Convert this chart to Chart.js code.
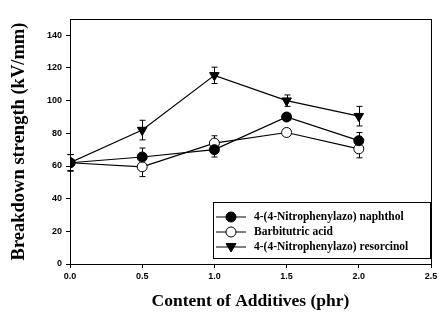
<!DOCTYPE html>
<html>
<head>
<meta charset="utf-8">
<script src="https://cdn.jsdelivr.net/npm/chart.js@4.4.1/dist/chart.umd.min.js"></script>
<style>
  html, body { margin: 0; padding: 0; background: #fff; }
  #wrap { width: 441px; height: 318px; position: relative; }
</style>
</head>
<body>
<div id="wrap"><canvas id="chart"></canvas></div>
<script>
/* ---- data ---- */
const contents = [0.0, 0.5, 1.0, 1.5, 2.0];

const seriesLabels = [
    "4-(4-Nitrophenylazo) naphthol",
    "Barbitutric acid",
    "4-(4-Nitrophenylazo) resorcinol"
];

const naphthol      = [62, 65.5, 70, 90, 75.5];
const naphtholErr   = [5, 5.5, 4.5, 2, 5];
const barbituric    = [62, 59.5, 74, 80.5, 70.5];
const barbituricErr = [5, 6, 4.5, 2, 5.5];
const resorcinol    = [62, 82, 115.5, 100, 90.5];
const resorcinolErr = [5, 6, 5, 3.5, 6];

const xTicks = [0.0, 0.5, 1.0, 1.5, 2.0, 2.5];
const yTicks = [0, 20, 40, 60, 80, 100, 120, 140];

/* ---- helpers ---- */
const toPoints = vals => vals.map((v, i) => ({ x: contents[i], y: v }));

// error bars drawn through the scales, below the markers
const errorBarPlugin = {
    id: "errorBars",
    beforeDatasetsDraw(chart) {
        const { ctx, scales: { x, y } } = chart;
        ctx.save();
        ctx.strokeStyle = "#000";
        ctx.lineWidth = 1;
        chart.data.datasets.forEach(ds => {
            ds.data.forEach((p, i) => {
                const e = ds.errors[i];
                const px = Math.round(x.getPixelForValue(p.x)) + 0.5;
                const top = y.getPixelForValue(p.y + e);
                const bot = y.getPixelForValue(p.y - e);
                ctx.beginPath();
                ctx.moveTo(px, top);
                ctx.lineTo(px, bot);
                ctx.moveTo(px - 3, top);
                ctx.lineTo(px + 3, top);
                ctx.moveTo(px - 3, bot);
                ctx.lineTo(px + 3, bot);
                ctx.stroke();
            });
        });
        ctx.restore();
    }
};

// box around the plot and a legend panel in the lower right
const frameLegendPlugin = {
    id: "frameLegend",
    afterDraw(chart) {
        const { ctx, chartArea: a } = chart;
        ctx.save();
        ctx.strokeStyle = "#000";
        ctx.lineWidth = 1;
        ctx.strokeRect(a.left + 0.5, a.top + 0.5, a.right - a.left, a.bottom - a.top);

        const bx = 213, by = 202, bw = 217, bh = 56;
        ctx.fillStyle = "#fff";
        ctx.fillRect(bx, by, bw, bh);
        ctx.strokeRect(bx + 0.5, by + 0.5, bw, bh);

        ctx.font = "bold 11.5px 'Liberation Serif', 'Times New Roman', serif";
        ctx.textBaseline = "middle";
        chart.data.datasets.forEach((ds, i) => {
            const ry = by + 15 + i * 15;
            ctx.beginPath();
            ctx.moveTo(bx + 3, ry);
            ctx.lineTo(bx + 33, ry);
            ctx.stroke();
            const r = 5;
            ctx.beginPath();
            if (ds.pointStyle === "triangle") {
                ctx.moveTo(bx + 18 - r, ry - r * 0.7);
                ctx.lineTo(bx + 18 + r, ry - r * 0.7);
                ctx.lineTo(bx + 18, ry + r);
                ctx.closePath();
            } else {
                ctx.arc(bx + 18, ry, r, 0, Math.PI * 2);
            }
            ctx.fillStyle = ds.pointBackgroundColor;
            ctx.fill();
            ctx.stroke();
            ctx.fillStyle = "#000";
            ctx.fillText(ds.label, bx + 41, ry + 0.5);
        });
        ctx.restore();
    }
};

const commonDs = {
    borderColor: "#000",
    borderWidth: 1.2,
    pointBorderColor: "#000",
    pointBorderWidth: 1,
    pointRadius: 5,
    tension: 0,
    fill: false
};

new Chart(document.getElementById("chart"), {
    type: "line",
    data: {
        datasets: [
            Object.assign({}, commonDs, {
                label: seriesLabels[0],
                data: toPoints(naphthol),
                errors: naphtholErr,
                pointStyle: "circle",
                pointBackgroundColor: "#000"
            }),
            Object.assign({}, commonDs, {
                label: seriesLabels[1],
                data: toPoints(barbituric),
                errors: barbituricErr,
                pointStyle: "circle",
                pointBackgroundColor: "#fff"
            }),
            Object.assign({}, commonDs, {
                label: seriesLabels[2],
                data: toPoints(resorcinol),
                errors: resorcinolErr,
                pointStyle: "triangle",
                pointRotation: 180,
                pointRadius: 5.5,
                pointBackgroundColor: "#000"
            })
        ]
    },
    options: {
        responsive: true,
        maintainAspectRatio: false,
        animation: false,
        layout: { padding: { top: 19, right: 10, left: 0, bottom: 0 } },
        plugins: {
            legend: { display: false },
            tooltip: { enabled: false }
        },
        scales: {
            x: {
                type: "linear",
                min: 0,
                max: 2.5,
                afterBuildTicks: s => { s.ticks = xTicks.map(v => ({ value: v })); },
                afterFit: s => { s.height = 54; },
                grid: { drawOnChartArea: false, tickLength: 4, color: "#000" },
                border: { color: "#000", width: 1 },
                ticks: {
                    color: "#000",
                    padding: 3,
                    font: { family: "'Liberation Sans', Arial, sans-serif", size: 9, weight: "bold" },
                    callback: v => Number(v).toFixed(1)
                },
                title: {
                    display: true,
                    text: "Content of Additives (phr)",
                    color: "#000",
                    padding: { top: 4, bottom: 6 },
                    font: { family: "'Liberation Serif', 'Times New Roman', serif", size: 17.5, weight: "bold" }
                }
            },
            y: {
                min: 0,
                max: 150,
                afterBuildTicks: s => { s.ticks = yTicks.map(v => ({ value: v })); },
                afterFit: s => { s.width = 70; },
                grid: { drawOnChartArea: false, tickLength: 4, color: "#000" },
                border: { color: "#000", width: 1 },
                ticks: {
                    color: "#000",
                    padding: 4,
                    font: { family: "'Liberation Sans', Arial, sans-serif", size: 9, weight: "bold" }
                },
                title: {
                    display: true,
                    text: "Breakdown strength (kV/mm)",
                    color: "#000",
                    padding: { top: 8, bottom: 4 },
                    font: { family: "'Liberation Serif', 'Times New Roman', serif", size: 18.5, weight: "bold" }
                }
            }
        }
    },
    plugins: [errorBarPlugin, frameLegendPlugin]
});
</script>
</body>
</html>
